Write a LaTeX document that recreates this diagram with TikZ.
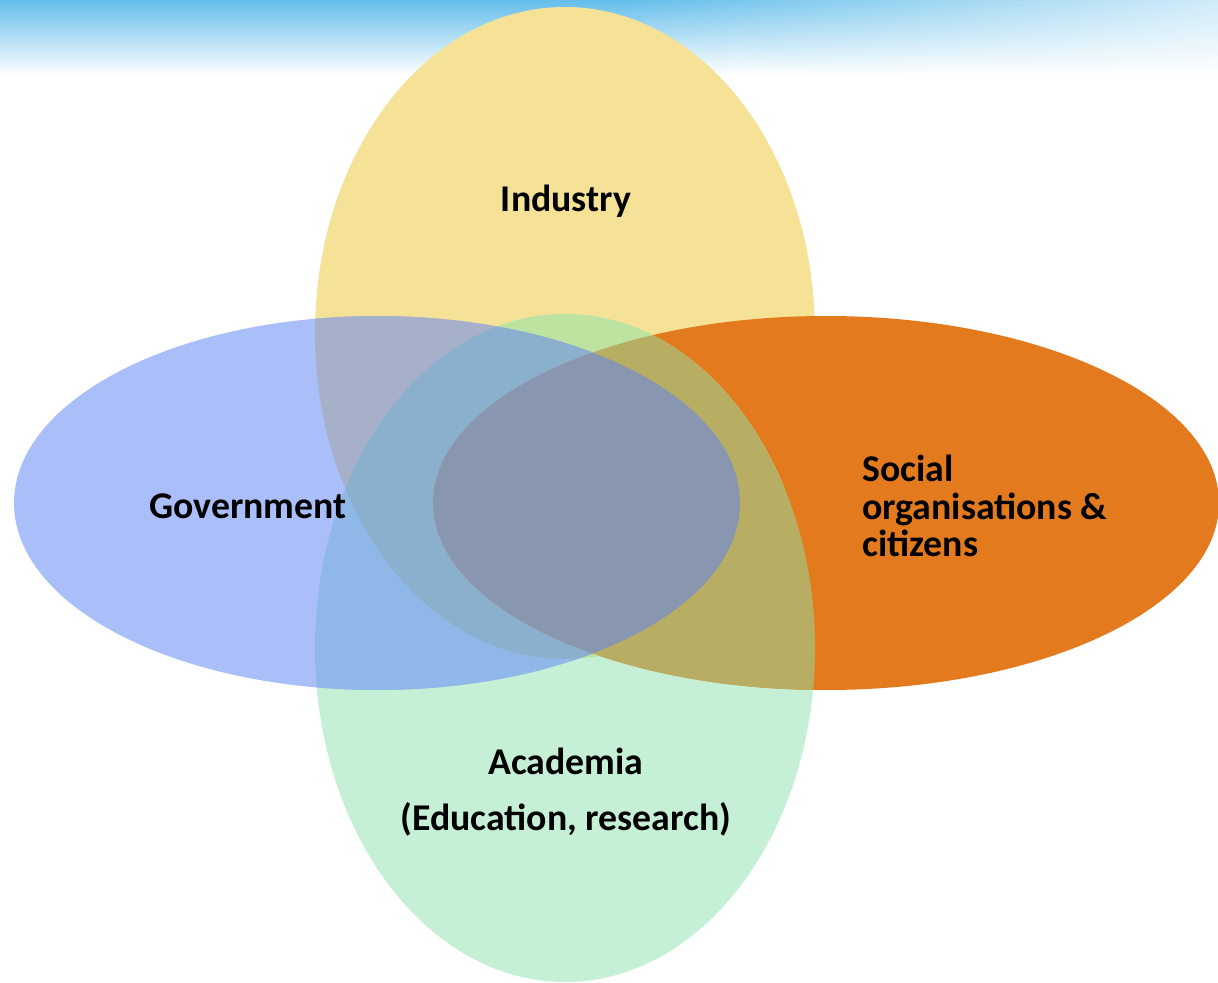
\documentclass[tikz,border=0pt]{standalone}
\usepackage{fontspec}
\setmainfont{Carlito}
\usetikzlibrary{fadings}

\definecolor{sky}{RGB}{100,190,235}
\definecolor{yel}{RGB}{245,226,150}
\definecolor{grn}{RGB}{197,240,214}
\definecolor{blu}{RGB}{170,190,250}
\definecolor{org}{RGB}{227,122,30}
\definecolor{yelgrn}{RGB}{190,226,160}
\definecolor{yelblu}{RGB}{166,176,200}
\definecolor{grnblu}{RGB}{143,183,232}
\definecolor{ygb}{RGB}{139,176,205}
\definecolor{olive}{RGB}{183,174,100}
\definecolor{core}{RGB}{136,150,176}

\begin{document}
\begin{tikzpicture}[x=0.2mm,y=-0.2mm,
  lab/.style={inner sep=0pt,font=\bfseries\fontsize{21.5}{21.5}\selectfont}]
\useasboundingbox (0,0) rectangle (1218,983);

\shade[top color=sky,middle color=sky!55,bottom color=white] (0,0) rectangle (1218,75);
\fill[white,opacity=0.7,path fading=west] (620,0) rectangle (1218,75);

\def\yelpath{(565,333) ellipse [x radius=250,y radius=326]}
\def\grnpath{(565,648) ellipse [x radius=250,y radius=334]}
\def\blupath{(377,503) ellipse [x radius=363,y radius=187]}
\def\orgpath{(826,503) ellipse [x radius=393,y radius=187]}

\fill[yel] \yelpath;
\fill[grn] \grnpath;
\fill[blu] \blupath;
\fill[org] \orgpath;

\begin{scope}
\clip \yelpath;
\fill[yelgrn] \grnpath;
\fill[yelblu] \blupath;
\end{scope}
\begin{scope}
\clip \grnpath;
\fill[grnblu] \blupath;
\end{scope}
\begin{scope}
\clip \yelpath;
\clip \grnpath;
\fill[ygb] \blupath;
\end{scope}
\begin{scope}
\clip \orgpath;
\fill[olive] \grnpath;
\end{scope}
\begin{scope}
\clip \blupath;
\fill[core] \orgpath;
\end{scope}

\node[lab] (industry) at (566,201) {Industry};
\node[lab] (government) at (248,506) {Government};
\node[lab,anchor=west,align=left] (social) at (862,506) {Social\\organisations \&\\citizens};
\node[lab,align=center,font=\bfseries\fontsize{21.5}{31.5}\selectfont] (academia) at (566,792) {Academia\\(Education, research)};
\end{tikzpicture}
\end{document}
